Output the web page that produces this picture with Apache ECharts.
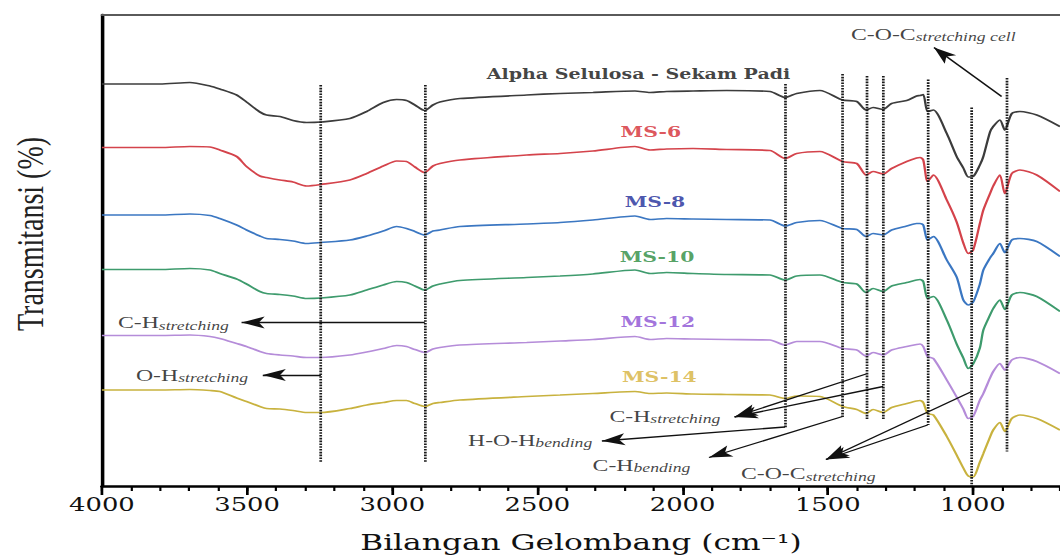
<!DOCTYPE html>
<html>
<head>
<meta charset="utf-8">
<title>FTIR Alpha Selulosa - Sekam Padi</title>
<script src="https://cdn.jsdelivr.net/npm/echarts@6/dist/echarts.min.js"></script>
<style>
  html, body { margin: 0; padding: 0; background: #fff; overflow: hidden; }
  /* the source figure is stretched sideways, so draw it narrow and stretch it the same way */
  #chart { width: 780px; height: 560px; transform: scaleX(1.358974); transform-origin: 0 0; }
</style>
</head>
<body>
<div id="chart"></div>
<script>
// wavenumber (cm-1) of every sampled point, shared by all spectra
var wavenumbers = [4000, 3800, 3697, 3628, 3594, 3536, 3502, 3456, 3433, 3387, 3342, 3295, 3246, 3146, 3088, 3031,
    2985, 2951, 2922, 2888, 2860, 2836, 2767, 2537, 2422, 2309, 2164, 2112, 2055, 1964, 1848, 1699, 1647, 1607, 1527,
    1449, 1400, 1368, 1344, 1309, 1280, 1228, 1194, 1182, 1171, 1156, 1136, 1090, 1056, 1033, 1016, 999, 976, 964,
    941, 930, 907, 890, 866, 838, 780, 700];

// transmittance, already offset for stacking
var alphaSelulosa = [80.4, 80.4, 80.7, 80.0, 79.4, 78.2, 76.8, 74.8, 74.2, 73.9, 73.1, 72.7, 72.8, 73.5, 74.9, 76.7,
    77.3, 77.1, 76.2, 75.1, 76.2, 76.8, 77.5, 78.2, 78.5, 78.7, 79.0, 78.7, 78.9, 79.0, 79.1, 78.9, 77.7, 78.5, 79.1,
    77.2, 76.9, 75.2, 75.7, 75.3, 76.5, 77.1, 78.0, 78.1, 78.3, 74.9, 75.2, 70.5, 65.9, 63.6, 61.8, 61.9, 64.2, 65.9,
    70.8, 71.9, 73.2, 71.2, 74.5, 74.9, 74.2, 71.9];
var ms6 = [67.7, 67.7, 67.9, 67.8, 67.2, 65.9, 63.9, 62.0, 61.7, 61.2, 60.8, 60.0, 60.3, 61.2, 62.5, 64.0,
    65.0, 64.9, 63.8, 62.7, 64.0, 64.5, 65.2, 66.2, 66.5, 67.0, 67.9, 67.2, 67.4, 67.5, 67.3, 67.1, 65.5, 66.5, 66.9,
    64.9, 64.5, 62.2, 62.9, 62.4, 63.5, 64.9, 65.6, 65.7, 65.2, 60.9, 62.2, 57.2, 52.8, 48.6, 46.5, 47.2, 52.5, 55.2,
    58.5, 60.0, 62.2, 58.5, 62.5, 63.2, 62.2, 58.9];
var ms8 = [54.2, 54.2, 54.4, 54.1, 53.5, 52.2, 51.2, 50.0, 49.5, 49.3, 49.0, 48.5, 48.7, 49.2, 50.0, 51.0,
    51.9, 51.5, 50.9, 50.2, 51.0, 51.2, 51.9, 52.4, 52.7, 53.2, 54.0, 53.3, 53.5, 53.4, 53.3, 53.2, 52.0, 52.7, 53.1,
    51.5, 51.3, 49.9, 50.5, 50.2, 51.2, 52.0, 52.5, 52.5, 52.2, 49.2, 49.9, 45.2, 41.8, 37.2, 36.2, 36.8, 40.4, 43.2,
    45.6, 46.5, 48.5, 46.7, 49.2, 49.5, 48.9, 45.9];
var ms10 = [43.3, 43.3, 43.5, 43.2, 42.5, 41.4, 40.4, 38.9, 38.5, 38.3, 38.0, 37.5, 37.6, 38.2, 39.2, 40.2,
    40.9, 40.7, 40.0, 39.2, 40.0, 40.4, 41.1, 41.7, 42.0, 42.4, 43.2, 42.5, 42.7, 42.5, 42.3, 42.2, 41.2, 42.0, 42.2,
    40.7, 40.4, 38.7, 39.5, 38.9, 40.0, 40.7, 41.2, 41.3, 40.9, 37.5, 37.9, 33.2, 28.4, 25.6, 23.5, 24.4, 27.6, 31.2,
    34.2, 35.5, 37.2, 35.3, 38.2, 38.7, 37.9, 34.9];
var ms12 = [30.1, 30.1, 30.2, 29.9, 29.5, 28.5, 27.9, 26.9, 26.5, 26.2, 26.0, 25.7, 25.7, 26.2, 26.8, 27.5,
    28.1, 27.9, 27.3, 26.7, 27.4, 27.7, 28.2, 28.7, 29.0, 29.3, 29.9, 29.3, 29.5, 29.4, 29.3, 29.2, 28.2, 28.9, 28.9,
    27.5, 27.2, 26.0, 26.7, 26.2, 27.2, 27.9, 28.3, 28.4, 27.9, 25.9, 25.5, 21.2, 17.8, 15.4, 13.5, 13.9, 17.2, 18.5,
    21.6, 22.9, 24.5, 23.2, 25.2, 25.7, 24.9, 22.5];
var ms14 = [19.2, 19.2, 19.3, 19.1, 18.9, 17.6, 16.9, 15.9, 15.5, 15.4, 15.1, 14.7, 14.7, 15.5, 16.2, 16.7,
    17.1, 17.1, 16.5, 15.9, 16.5, 16.7, 17.2, 17.9, 18.2, 18.5, 18.9, 18.5, 18.6, 18.4, 18.3, 18.2, 17.5, 18.0, 17.9,
    15.9, 15.3, 14.5, 15.3, 14.7, 15.7, 16.5, 17.0, 17.1, 16.7, 14.5, 14.2, 9.9, 6.2, 3.6, 2.0, 1.8, 4.8, 6.5,
    9.8, 11.2, 12.7, 10.9, 13.5, 14.2, 13.5, 11.2];

var sampleNames = ['Alpha Selulosa - Sekam Padi', 'MS-6', 'MS-8', 'MS-10', 'MS-12', 'MS-14'];
var xTickValues = [1000, 1500, 2000, 2500, 3000, 3500, 4000];

// dotted peak markers: wavenumber, top, bottom
var peakLines = [[3246, 80.2, 4.8], [2888, 80.2, 4.8], [1647, 80.4, 11.6], [1449, 82.4, 13.8], [1368, 82.0, 13.4],
    [1309, 82.0, 13.4], [1156, 81.3, 12.2], [1004, 75.7, 0], [886, 81.6, 6.9]];

var bandNames = [['C-O-C', 'stretching cell'], ['C-H', 'stretching'], ['O-H', 'stretching'], ['C-H', 'stretching'],
    ['H-O-H', 'bending'], ['C-H', 'bending'], ['C-O-C', 'stretching']];

// layout (data coords) for the text and arrows
var sampleLabelAt = [[2152, 82.5], [2109, 70.9], [2095, 56.9], [2088, 45.8], [2085, 32.9], [2080, 21.9]];
var bandLabelAt = [[1420, 90.4], [3945, 32.7], [3883, 22.2], [2252, 14.0], [2739, 9.2], [2310, 4.2], [1799, 2.5]];
var arrows = [[[901, 77.9], [1134, 87.7]], [[2888, 32.7], [3519, 32.7]], [[3246, 22.2], [3446, 22.2]],
    [[1368, 22.4], [1821, 13.8]], [[1309, 19.9], [1821, 13.8]], [[1647, 11.8], [2278, 9.0]],
    [[1449, 13.9], [1909, 5.7]], [[1004, 18.9], [1506, 5.3]], [[1156, 12.2], [1506, 5.3]]];

var lineColors = ['#3c3c3c', '#d4434b', '#3b77c2', '#3e9b6d', '#b58cd9', '#c8b23e'];
var nameColors = ['#111111', '#d42a32', '#1c2a98', '#2a8a3d', '#8a4fd3', '#d6b13c'];

var chart = echarts.init(document.getElementById('chart'), null, { renderer: 'svg' });

function pairs(ys) {
    return wavenumbers.map(function (w, i) { return [w, ys[i]]; });
}

var spectra = [alphaSelulosa, ms6, ms8, ms10, ms12, ms14];
var series = spectra.map(function (ys, i) {
    return {
        name: sampleNames[i],
        type: 'line',
        data: pairs(ys),
        showSymbol: false,
        smooth: 0.25,
        silent: true,
        lineStyle: { color: lineColors[i], width: 1.7 },
        z: 2
    };
});

series[0].markLine = {
    silent: true,
    symbol: ['none', 'none'],
    label: { show: false },
    emphasis: { disabled: true },
    lineStyle: { color: '#1a1a1a', type: [1.6, 1.2], width: 2 },
    data: peakLines.map(function (p) {
        return [{ coord: [p[0], p[1]] }, { coord: [p[0], p[2]] }];
    })
};

series[1].markLine = {
    silent: true,
    symbol: ['none', 'arrow'],
    label: { show: false },
    emphasis: { disabled: true },
    lineStyle: { color: '#111', type: 'solid', width: 1.3 },
    data: arrows.map(function (a) {
        return [{ coord: a[0] }, { coord: a[1], symbol: 'arrow', symbolSize: [9, 17] }];
    })
};

series.push({
    type: 'scatter',
    silent: true,
    symbolSize: 0,
    z: 5,
    data: sampleNames.map(function (n, i) {
        return { value: sampleLabelAt[i], name: n, label: { color: nameColors[i], fontSize: i === 0 ? 14 : 15 } };
    }),
    label: {
        show: true,
        position: 'inside',
        formatter: '{b}',
        fontFamily: 'DejaVu Serif',
        fontWeight: 'bold'
    }
});

series.push({
    type: 'scatter',
    silent: true,
    symbolSize: 0,
    z: 5,
    data: bandNames.map(function (b, i) {
        return { value: bandLabelAt[i], main: b[0], sub: b[1] };
    }),
    label: {
        show: true,
        position: 'right',
        distance: 0,
        formatter: function (p) {
            return '{m|' + p.data.main + '}{s|' + p.data.sub + '}';
        },
        rich: {
            m: { fontFamily: 'Liberation Serif', fontSize: 17.5, color: '#111', lineHeight: 18, verticalAlign: 'bottom' },
            s: { fontFamily: 'Liberation Serif', fontStyle: 'italic', fontSize: 13, color: '#111', lineHeight: 14, verticalAlign: 'bottom' }
        }
    }
});

var option = {
    animation: false,
    backgroundColor: '#fff',
    grid: { left: 75, right: 0, top: 15, bottom: 74 },
    xAxis: [
        {
            type: 'value', min: 700, max: 4000, inverse: true, position: 'bottom',
            name: 'Bilangan Gelombang (cm⁻¹)',
            nameLocation: 'middle',
            nameGap: 45,
            nameTextStyle: { fontFamily: 'DejaVu Serif', fontSize: 23, color: '#111' },
            axisLine: { onZero: false, lineStyle: { color: '#000', width: 2.6 } },
            axisTick: { customValues: xTickValues, length: 9, lineStyle: { color: '#000', width: 2 } },
            axisLabel: {
                customValues: xTickValues, margin: 9, fontFamily: 'DejaVu Serif', fontSize: 19, color: '#111',
                formatter: function (v) { return String(v); }
            },
            splitLine: { show: false }
        },
        {
            type: 'value', min: 700, max: 4000, interval: 100, inverse: true, position: 'bottom',
            axisLine: { show: false, onZero: false },
            axisTick: { length: 5, lineStyle: { color: '#000', width: 1.6 } },
            axisLabel: { show: false },
            splitLine: { show: false }
        },
        {
            type: 'value', min: 700, max: 4000, inverse: true, position: 'top',
            axisLine: { onZero: false, lineStyle: { color: '#5a5a5a', width: 2 } },
            axisTick: { show: false },
            axisLabel: { show: false },
            splitLine: { show: false }
        }
    ],
    yAxis: {
        type: 'value', min: 0, max: 94.2,
        axisLine: { show: true, onZero: false, lineStyle: { color: '#000', width: 2.6 } },
        axisTick: { show: false },
        axisLabel: { show: false },
        splitLine: { show: false }
    },
    graphic: [{
        type: 'text',
        x: 22,
        y: 234,
        rotation: Math.PI / 2,
        style: {
            text: 'Transmitansi (%)',
            font: '28px "Liberation Serif"',
            fill: '#222',
            align: 'center',
            verticalAlign: 'middle'
        }
    }],
    series: series
};

chart.setOption(option);
</script>
</body>
</html>
